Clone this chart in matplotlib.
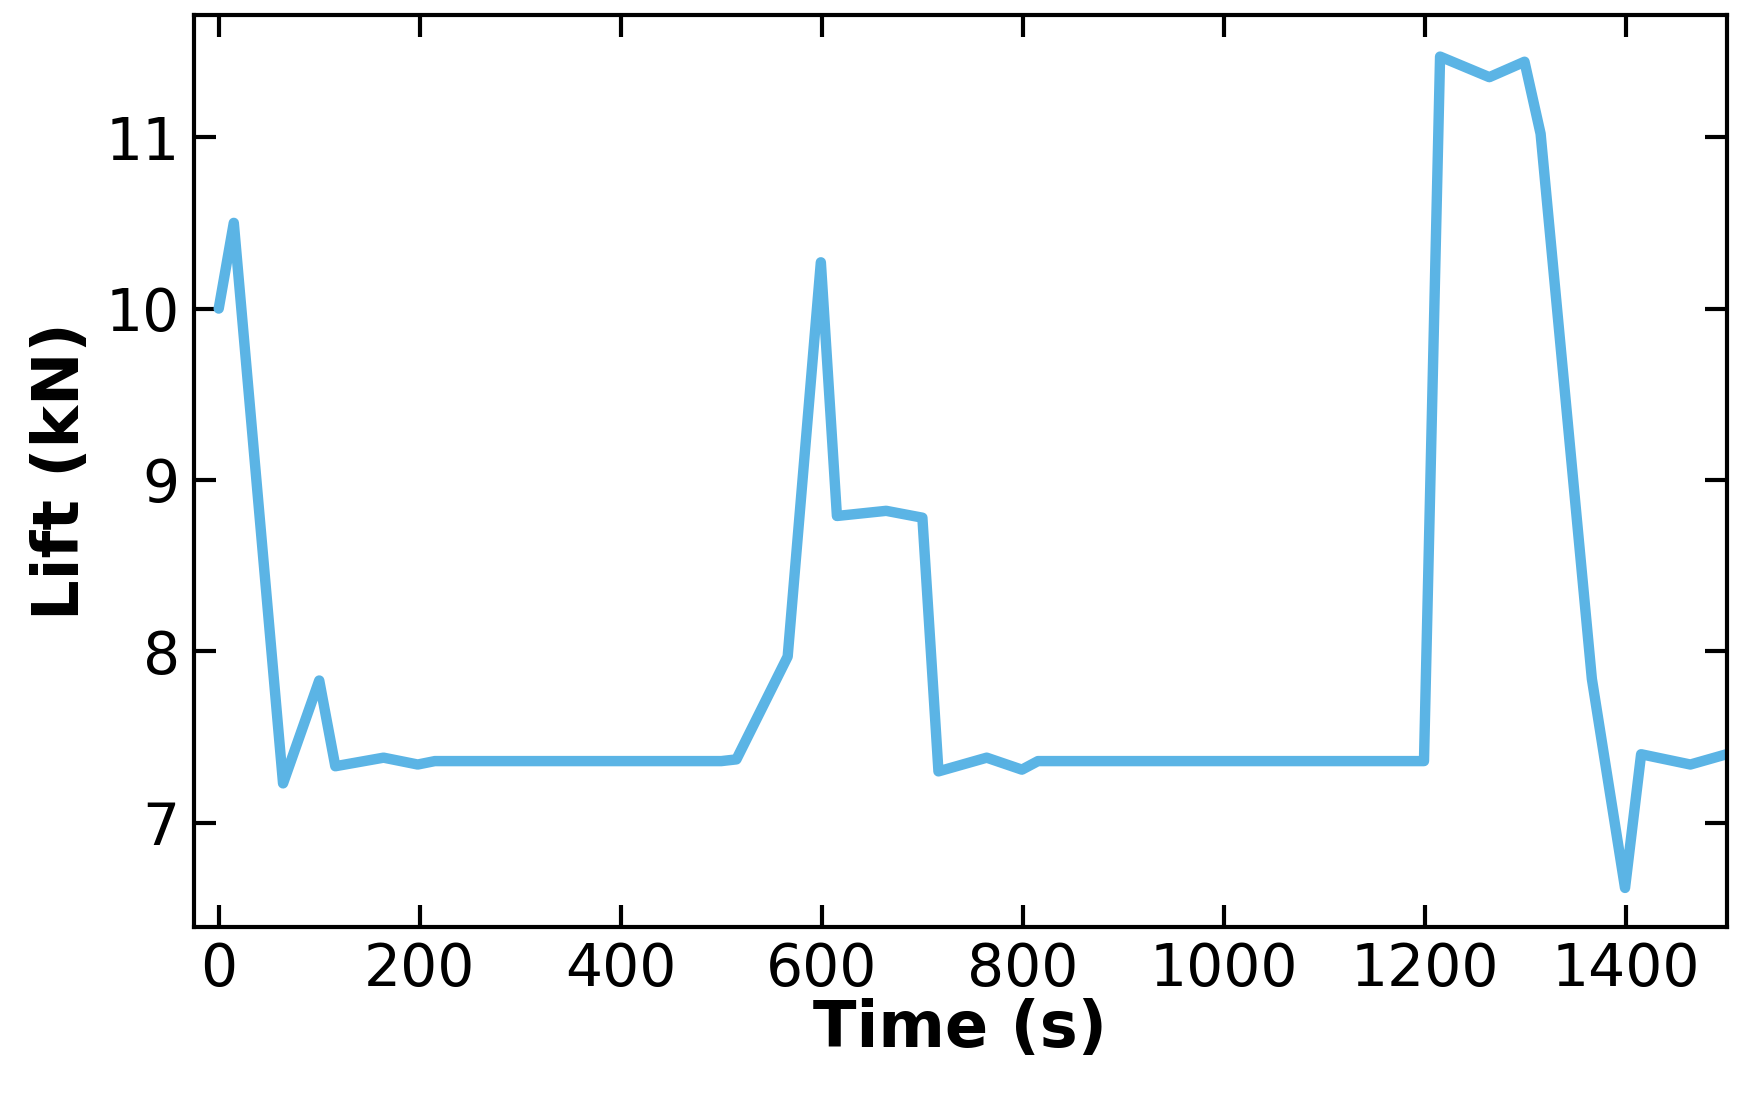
import matplotlib
matplotlib.use("Agg")
import matplotlib.pyplot as plt

time_s = [0, 15, 64, 100, 116, 164, 198, 215, 500, 515, 566, 599, 615, 664, 700, 716,
          764, 799, 815, 1199, 1215, 1264, 1299, 1315, 1366, 1399, 1415, 1464, 1500]
lift_kn = [10.0, 10.5, 7.23, 7.83, 7.33, 7.38, 7.34, 7.36, 7.36, 7.37, 7.97, 10.27, 8.79,
           8.82, 8.78, 7.30, 7.38, 7.31, 7.36, 7.36, 11.47, 11.35, 11.44, 11.02, 7.84,
           6.62, 7.40, 7.34, 7.40]

fig = plt.figure(figsize=(17.44, 11.04), dpi=100)
ax = fig.add_axes([0.111, 0.16, 0.879, 0.826])
ax.plot(time_s, lift_kn, color="#5bb4e5", lw=7.5, solid_joinstyle="round", solid_capstyle="round")
ax.set_xlim(-25, 1500)
ax.set_ylim(6.39, 11.71)
ax.set_xticks(range(0, 1401, 200))
ax.set_yticks([7, 8, 9, 10, 11])
ax.tick_params(direction="in", length=16, width=3, labelsize=42, top=True, right=True, pad=10)
for s in ax.spines.values():
    s.set_linewidth(3)
ax.set_xlabel("Time (s)", fontsize=46, fontweight="bold", labelpad=0)
ax.set_ylabel("Lift (kN)", fontsize=46, fontweight="bold", labelpad=10)
fig.savefig("out.png", dpi=100)
